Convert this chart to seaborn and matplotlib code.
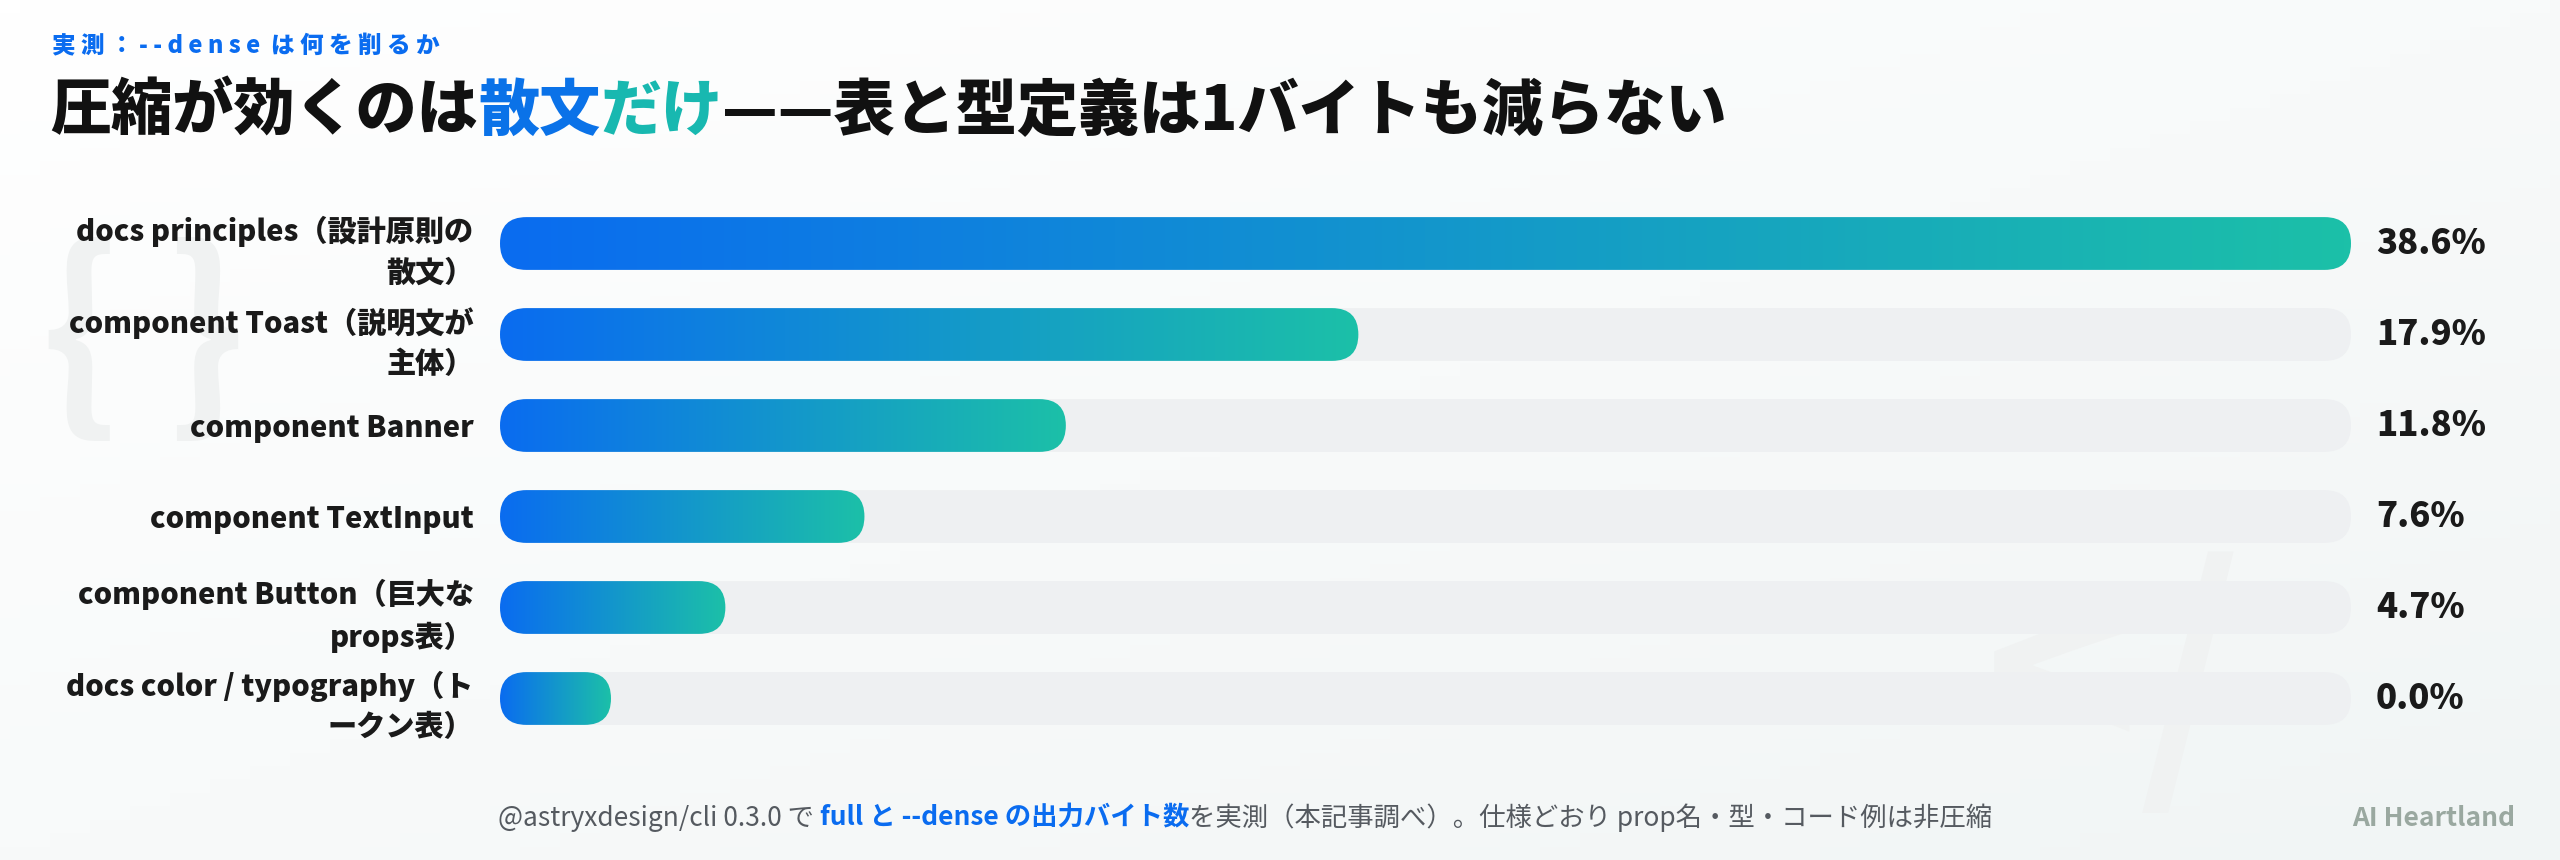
import numpy as np
import pandas as pd
import matplotlib.pyplot as plt
import seaborn as sns
from matplotlib.patches import FancyBboxPatch
from matplotlib.colors import LinearSegmentedColormap

labels = [
    "docs principles（設計原則の\n散文）",
    "component Toast（説明文が\n主体）",
    "component Banner",
    "component TextInput",
    "component Button（巨大な\nprops表）",
    "docs color / typography（ト\nークン表）",
]
reduction = [38.6, 17.9, 11.8, 7.6, 4.7, 0.0]
value_labels = ["38.6%", "17.9%", "11.8%", "7.6%", "4.7%", "0.0%"]

df = pd.DataFrame({"label": labels, "reduction": reduction})

sns.set_theme(style="white")
plt.rcParams["font.family"] = ["Noto Sans CJK JP", "DejaVu Sans"]

W, H = 2560, 860
fig = plt.figure(figsize=(25.6, 8.6), dpi=100)
# faint background gradient + decorative glyphs
bg = fig.add_axes([0, 0, 1, 1], zorder=-10)
gx = np.linspace(0, 1, 256)
gy = np.linspace(0, 1, 64)
g = np.outer(1 - gy, np.ones_like(gx)) * 0.5 + np.outer(np.ones_like(gy), gx) * 0.5
bg.imshow(g, extent=(0, 1, 0, 1), aspect="auto",
          cmap=LinearSegmentedColormap.from_list("bg", ["#ffffff", "#f1f5f5"]), origin="lower")
bg.text(0.016, 0.60, "{ }", fontsize=150, color="#f0f2f2", fontweight="bold", va="center")
bg.text(0.775, 0.20, "</", fontsize=190, color="#f0f2f2", fontweight="bold", va="center")
bg.set_axis_off()

left, right = 500 / W, 2351 / W
top, bottom = 1 - 198 / H, 1 - 744 / H
ax = fig.add_axes([left, bottom, right - left, top - bottom])

xmax = max(reduction)
track = pd.DataFrame({"label": labels, "reduction": [xmax] * len(labels)})
sns.barplot(data=track, y="label", x="reduction", color="#eef0f2", width=0.58, ax=ax)
ax.set_xlim(0, xmax)
ax.set_ylim(len(labels) - 0.5, -0.5)

# px to data
xpp = xmax / ((right - left) * W)
ypp = len(labels) / ((top - bottom) * H)
aspect = ypp / xpp
bh = 0.58
r = (bh / 2) / aspect
min_w = 111 * xpp

cmap = LinearSegmentedColormap.from_list("bar", ["#0a6cf0", "#1cc0a8"])
grad = np.linspace(0, 1, 256).reshape(1, -1)

for p in list(ax.patches):
    y0 = p.get_y()
    p.remove()
    tr = FancyBboxPatch((0, y0), xmax, bh, boxstyle=f"round,pad=0,rounding_size={r}",
                        mutation_aspect=aspect, fc="#eef0f2", ec="none", zorder=1)
    ax.add_patch(tr)

for i, v in enumerate(df["reduction"]):
    w = max(v, min_w)
    y0 = i - bh / 2
    pill = FancyBboxPatch((0, y0), w, bh, boxstyle=f"round,pad=0,rounding_size={r}",
                          mutation_aspect=aspect, fc="none", ec="none", zorder=2)
    ax.add_patch(pill)
    im = ax.imshow(grad, extent=(0, w, y0 + bh, y0), aspect="auto", cmap=cmap, zorder=2)
    im.set_clip_path(pill)
    ax.annotate(value_labels[i], xy=(xmax, i), xytext=(18, 0), textcoords="offset points",
                ha="left", va="center", fontsize=25, fontweight="black", color="#1a1a1a",
                annotation_clip=False)

ax.set_xlim(0, xmax)
ax.set_ylim(len(labels) - 0.5, -0.5)
ax.set_xlabel("")
ax.set_ylabel("")
ax.set_xticks([])
ax.tick_params(axis="y", length=0, pad=19)
ax.set_yticks(range(len(labels)))
ax.set_yticklabels(labels, fontsize=21, fontweight="black", color="#1a1a1a",
                   ha="right", multialignment="right", linespacing=1.45)
ax.set_facecolor("none")
sns.despine(ax=ax, left=True, bottom=True)

# title texts
fig.text(52 / W, 1 - 46 / H, "実 測 ： - - d e n s e  は 何 を 削 る か", fontsize=17,
         fontweight="black", color="#0a6cf0", va="center")
t1 = fig.text(50 / W, 1 - 112 / H, "圧縮が効くのは", fontsize=44, fontweight="black",
              color="#111111", va="center")
t2 = ax.annotate("散文", xy=(1, 0), xycoords=t1, va="bottom", fontsize=44,
                 fontweight="black", color="#0a72e8")
t3 = ax.annotate("だけ", xy=(1, 0), xycoords=t2, va="bottom", fontsize=44,
                 fontweight="black", color="#18b8b0")
ax.annotate("——表と型定義は1バイトも減らない", xy=(1, 0), xycoords=t3, va="bottom",
            fontsize=44, fontweight="black", color="#111111")

# footer
f1 = fig.text(498 / W, 1 - 818 / H, "@astryxdesign/cli 0.3.0 で ", fontsize=19,
              color="#555a60", va="center")
f2 = ax.annotate("full と --dense の出力バイト数", xy=(1, 0), xycoords=f1, va="bottom",
                 fontsize=19, fontweight="bold", color="#0a6cf0")
ax.annotate("を実測（本記事調べ）。仕様どおり prop名・型・コード例は非圧縮", xy=(1, 0),
            xycoords=f2, va="bottom", fontsize=19, color="#555a60")
fig.text(2515 / W, 1 - 818 / H, "AI Heartland", fontsize=19, fontweight="bold",
         color="#9aa8a0", ha="right", va="center")

fig.savefig("out.png", dpi=100)
